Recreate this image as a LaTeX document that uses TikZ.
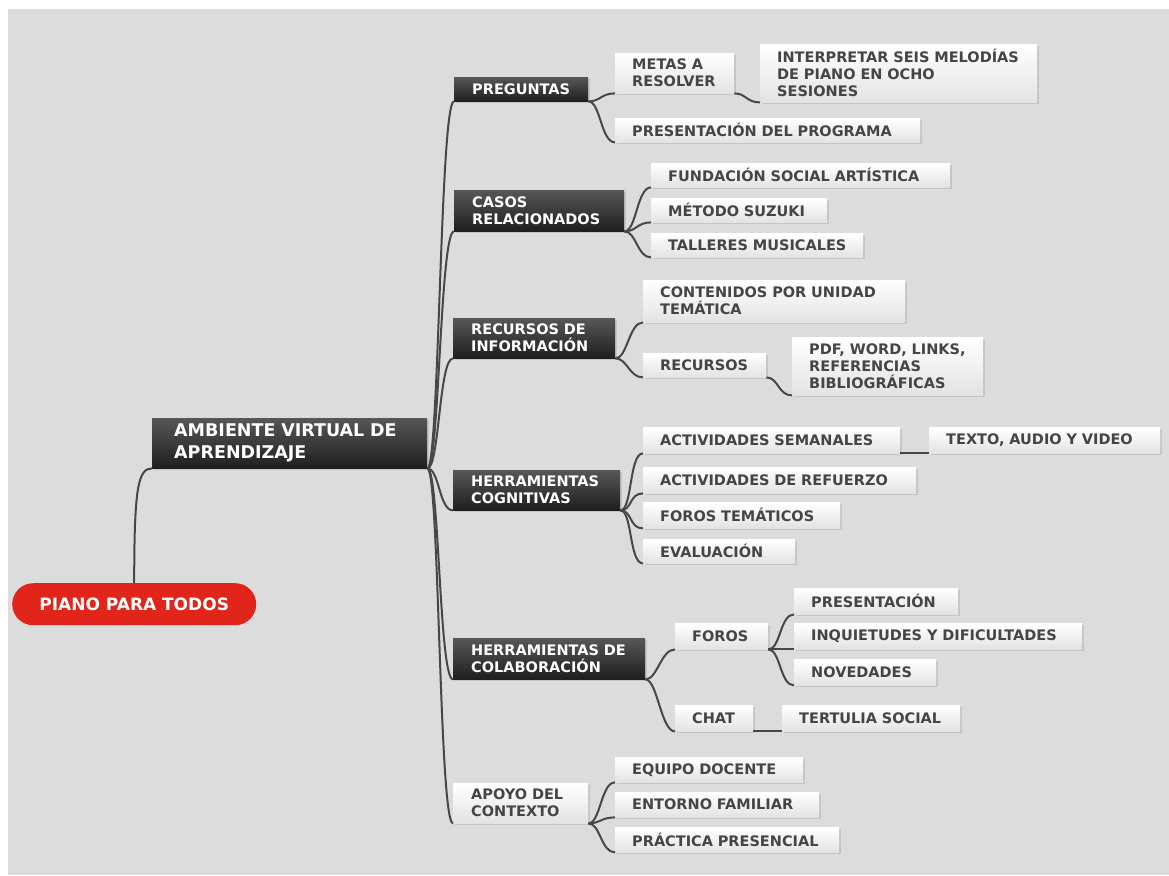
\documentclass[tikz,border=0pt]{standalone}
\usepackage{fontspec}
\setmainfont{DejaVu Sans}
\usetikzlibrary{shadows}
\hyphenpenalty=10000
\exhyphenpenalty=10000

\definecolor{mapbg}{HTML}{DCDCDC}
\definecolor{linkgray}{HTML}{474747}
\definecolor{leaftext}{HTML}{454545}
\definecolor{rootred}{HTML}{E2251A}

\begin{document}
\begin{tikzpicture}[
  x=1pt, y=-1pt,
  link/.style={draw=linkgray, line width=2pt},
  topic/.style={
    anchor=north west, inner xsep=18pt, inner ysep=0pt,
    align=left, text=white,
    font=\fontsize{14.5}{17}\selectfont\bfseries,
    top color=black!66, bottom color=black!88,
    drop shadow={shadow xshift=1.5pt, shadow yshift=-1.5pt,
                 fill=black!40, opacity=0.35}
  },
  leaf/.style={
    anchor=north west, inner xsep=17pt, inner ysep=0pt,
    align=left, text=leaftext,
    font=\fontsize{14.5}{17}\selectfont\bfseries,
    top color=white, bottom color=black!11,
    drop shadow={shadow xshift=1.5pt, shadow yshift=-1.5pt,
                 fill=black!40, opacity=0.35}
  }
]

% ---- canvas ----
\useasboundingbox (0,0) rectangle (1169,875);
\fill[mapbg] (8,9) rectangle (1169,875);

% ---- central topics ----
\node[anchor=north west, rounded corners=21pt, fill=rootred,
      minimum width=244pt, minimum height=42pt, text=white,
      font=\fontsize{17}{19}\selectfont\bfseries] (piano) at (12,583)
  {PIANO~PARA~TODOS};

\node[topic, inner xsep=22pt, text width=231pt, minimum height=50pt,
      font=\fontsize{17.5}{22}\selectfont\bfseries] (ava) at (152,418)
  {AMBIENTE~VIRTUAL~DE\\APRENDIZAJE};

% ---- main branches ----
\node[topic, text width=98pt, minimum height=24pt] (preg) at (454,77)
  {PREGUNTAS};
\node[topic, text width=134pt, minimum height=41pt] (casos) at (454,190)
  {CASOS\\RELACIONADOS};
\node[topic, text width=126pt, minimum height=40pt] (recinfo) at (453,318)
  {RECURSOS~DE\\INFORMACIÓN};
\node[topic, text width=131pt, minimum height=40pt] (hcog) at (453,470)
  {HERRAMIENTAS\\COGNITIVAS};
\node[topic, text width=156pt, minimum height=41pt] (hcolab) at (453,638)
  {HERRAMIENTAS~DE\\COLABORACIÓN};
\node[leaf, inner xsep=18pt, text width=99pt, minimum height=40pt] (apoyo) at (453,783)
  {APOYO~DEL\\CONTEXTO};

% ---- preguntas ----
\node[leaf, text width=85pt, minimum height=40pt] (metas) at (615,53)
  {METAS~A\\RESOLVER};
\node[leaf, text width=243pt, minimum height=58pt] (interp) at (760,44)
  {INTERPRETAR~SEIS~MELODÍAS\\DE~PIANO~EN~OCHO\\SESIONES};
\node[leaf, text width=271pt, minimum height=24pt] (presprog) at (615,118)
  {PRESENTACIÓN~DEL~PROGRAMA};

% ---- casos relacionados ----
\node[leaf, text width=265pt, minimum height=24pt] (fund) at (651,163)
  {FUNDACIÓN~SOCIAL~ARTÍSTICA};
\node[leaf, text width=142pt, minimum height=24pt] (suzuki) at (651,198)
  {MÉTODO~SUZUKI};
\node[leaf, text width=178pt, minimum height=24pt] (talleres) at (651,233)
  {TALLERES~MUSICALES};

% ---- recursos de informacion ----
\node[leaf, text width=228pt, minimum height=42pt] (contenidos) at (643,280)
  {CONTENIDOS~POR~UNIDAD\\TEMÁTICA};
\node[leaf, text width=89pt, minimum height=24pt] (recursos) at (643,353)
  {RECURSOS};
\node[leaf, text width=157pt, minimum height=58pt] (pdf) at (792,337)
  {PDF,~WORD,~LINKS,\\REFERENCIAS\\BIBLIOGRÁFICAS};

% ---- herramientas cognitivas ----
\node[leaf, text width=223pt, minimum height=26pt] (actsem) at (643,427)
  {ACTIVIDADES~SEMANALES};
\node[leaf, text width=197pt, minimum height=26pt] (texto) at (929,427)
  {TEXTO,~AUDIO~Y~VIDEO};
\node[leaf, text width=239pt, minimum height=26pt] (actref) at (643,467)
  {ACTIVIDADES~DE~REFUERZO};
\node[leaf, text width=163pt, minimum height=26pt] (forostem) at (643,502)
  {FOROS~TEMÁTICOS};
\node[leaf, text width=118pt, minimum height=24pt] (eval) at (643,539)
  {EVALUACIÓN};

% ---- herramientas de colaboracion ----
\node[leaf, text width=59pt, minimum height=26pt] (foros) at (675,623)
  {FOROS};
\node[leaf, text width=130pt, minimum height=26pt] (present) at (794,588)
  {PRESENTACIÓN};
\node[leaf, text width=254pt, minimum height=26pt] (inquiet) at (794,623)
  {INQUIETUDES~Y~DIFICULTADES};
\node[leaf, text width=108pt, minimum height=26pt] (noved) at (794,659)
  {NOVEDADES};
\node[leaf, text width=44pt, minimum height=26pt] (chat) at (675,705)
  {CHAT};
\node[leaf, text width=144pt, minimum height=26pt] (tertulia) at (782,705)
  {TERTULIA~SOCIAL};

% ---- apoyo del contexto ----
\node[leaf, text width=154pt, minimum height=25pt] (equipo) at (615,757)
  {EQUIPO~DOCENTE};
\node[leaf, text width=170pt, minimum height=25pt] (entorno) at (615,792)
  {ENTORNO~FAMILIAR};
\node[leaf, text width=190pt, minimum height=25pt] (practica) at (615,827)
  {PRÁCTICA~PRESENCIAL};

% ---- connectors ----
\draw[link] (piano.north) .. controls +(0,-95) and +(-14,0) .. (ava.south west);

\draw[link] (ava.south east) .. controls +(12,0) and +(-14,0) .. (preg.south west);
\draw[link] (ava.south east) .. controls +(12,0) and +(-14,0) .. (casos.south west);
\draw[link] (ava.south east) .. controls +(12,0) and +(-14,0) .. (recinfo.south west);
\draw[link] (ava.south east) .. controls +(12,0) and +(-14,0) .. (hcog.south west);
\draw[link] (ava.south east) .. controls +(12,0) and +(-14,0) .. (hcolab.south west);
\draw[link] (ava.south east) .. controls +(12,0) and +(-14,0) .. (apoyo.south west);

\draw[link] (preg.south east) .. controls +(12,0) and +(-14,0) .. (metas.south west);
\draw[link] (preg.south east) .. controls +(12,0) and +(-14,0) .. (presprog.south west);
\draw[link] (metas.south east) .. controls +(12,0) and +(-14,0) .. (interp.south west);

\draw[link] (casos.south east) .. controls +(12,0) and +(-14,0) .. (fund.south west);
\draw[link] (casos.south east) .. controls +(12,0) and +(-14,0) .. (suzuki.south west);
\draw[link] (casos.south east) .. controls +(12,0) and +(-14,0) .. (talleres.south west);

\draw[link] (recinfo.south east) .. controls +(12,0) and +(-14,0) .. (contenidos.south west);
\draw[link] (recinfo.south east) .. controls +(12,0) and +(-14,0) .. (recursos.south west);
\draw[link] (recursos.south east) .. controls +(12,0) and +(-14,0) .. (pdf.south west);

\draw[link] (hcog.south east) .. controls +(12,0) and +(-14,0) .. (actsem.south west);
\draw[link] (hcog.south east) .. controls +(12,0) and +(-14,0) .. (actref.south west);
\draw[link] (hcog.south east) .. controls +(12,0) and +(-14,0) .. (forostem.south west);
\draw[link] (hcog.south east) .. controls +(12,0) and +(-14,0) .. (eval.south west);
\draw[link] (actsem.south east) -- (texto.south west);

\draw[link] (hcolab.south east) .. controls +(12,0) and +(-14,0) .. (foros.south west);
\draw[link] (hcolab.south east) .. controls +(12,0) and +(-14,0) .. (chat.south west);
\draw[link] (foros.south east) .. controls +(12,0) and +(-14,0) .. (present.south west);
\draw[link] (foros.south east) .. controls +(12,0) and +(-14,0) .. (inquiet.south west);
\draw[link] (foros.south east) .. controls +(12,0) and +(-14,0) .. (noved.south west);
\draw[link] (chat.south east) -- (tertulia.south west);

\draw[link] (apoyo.south east) .. controls +(12,0) and +(-14,0) .. (equipo.south west);
\draw[link] (apoyo.south east) .. controls +(12,0) and +(-14,0) .. (entorno.south west);
\draw[link] (apoyo.south east) .. controls +(12,0) and +(-14,0) .. (practica.south west);

\end{tikzpicture}
\end{document}
